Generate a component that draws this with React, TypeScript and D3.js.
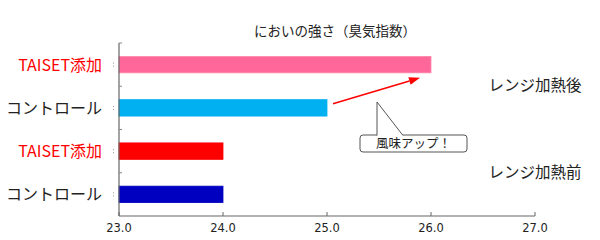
import React from "react";
import * as d3 from "d3";

const categories = ["TAISET添加", "コントロール", "TAISET添加", "コントロール"];
const groups = ["after", "after", "before", "before"];
const values = [26.0, 25.0, 24.0, 24.0];
const barColors = ["#FF6699", "#00B0F0", "#FF0000", "#0000C0"];
const labelColors = ["#FF0000", "#222222", "#FF0000", "#222222"];
const xTicks = [23, 24, 25, 26, 27];
const groupLabels = ["レンジ加熱後", "レンジ加熱前"];
const title = "においの強さ（臭気指数）";
const callout = "風味アップ！";

const W = 600;
const H = 240;
const left = 119;
const right = 535;
const top = 43;
const bottom = 216;
const font = "'Noto Sans CJK JP', 'Noto Sans', sans-serif";

export default function App() {
  const ids = categories.map((_, i) => String(i));
  const x = d3.scaleLinear().domain([23, 27]).range([left, right]);
  const y = d3.scaleBand<string>().domain(ids).range([top, bottom]).paddingInner(0.62).paddingOuter(0.31);
  const step = y.step();
  const fmt = d3.format(".1f");

  const afterMid = (y("0")! + y("1")! + y.bandwidth()) / 2;
  const beforeMid = (y("2")! + y("3")! + y.bandwidth()) / 2;

  const ax1 = x(values[1]) + 6;
  const ay1 = y("1")! + 4;
  const ax2 = x(values[0]) - 11;
  const ay2 = y("0")! + y.bandwidth() + 5;
  const ang = Math.atan2(ay2 - ay1, ax2 - ax1);
  const hl = 11, hw = 4;
  const bx = ax2 - hl * Math.cos(ang), by = ay2 - hl * Math.sin(ang);
  const head = [
    [ax2, ay2],
    [bx + hw * Math.sin(ang), by - hw * Math.cos(ang)],
    [bx - hw * Math.sin(ang), by + hw * Math.cos(ang)],
  ];

  const cx0 = 360, cx1 = 467, cy0 = 135, cy1 = 152;
  const tipX = 377, tipY = 102;

  return (
    <svg width={W} height={H} style={{ position: "absolute", left: 0, top: 0, background: "#fff" }} fontFamily={font}>
      <text x={335} y={36} textAnchor="middle" fontSize={13.5} fill="#222">{title}</text>

      {values.map((v, i) => (
        <rect key={i} x={x(23)} y={y(ids[i])!} width={x(v) - x(23)} height={y.bandwidth()}
          fill={barColors[i]} stroke={i === 0 ? "#FF88AA" : barColors[i]} strokeWidth={0.8} />
      ))}

      <line x1={left} x2={left} y1={top} y2={bottom} stroke="#666" strokeWidth={1.2} />
      {ids.map((id, i) => (
        <line key={"yt" + i} x1={left} x2={left + 3} y1={top + i * step} y2={top + i * step} stroke="#888" strokeWidth={1} />
      ))}
      {ids.map((id, i) => (
        <g key={"yd" + i} fill="#999">
          <rect x={113} y={y(id)! + y.bandwidth() / 2 - 2} width={1} height={1} />
          <rect x={113} y={y(id)! + y.bandwidth() / 2 + 1} width={1} height={1} />
        </g>
      ))}
      {categories.map((c, i) => (
        <text key={"yl" + i} x={102} y={y(ids[i])! + y.bandwidth() / 2 + 6} textAnchor="end"
          fontSize={16} fill={labelColors[i]}>{c}</text>
      ))}

      <line x1={left} x2={right} y1={bottom} y2={bottom} stroke="#666" strokeWidth={1.2} />
      {xTicks.map((t) => (
        <g key={"xt" + t}>
          <line x1={x(t)} x2={x(t)} y1={bottom} y2={bottom - 4} stroke="#666" strokeWidth={1} />
          <text x={x(t)} y={232} textAnchor="middle" fontSize={11.5} fontFamily="'DejaVu Sans', sans-serif" fill="#222">{fmt(t)}</text>
        </g>
      ))}

      <text x={535} y={afterMid + 5} textAnchor="middle" fontSize={15.5} fill="#222">{groupLabels[0]}</text>
      <text x={535} y={beforeMid + 5} textAnchor="middle" fontSize={15.5} fill="#222">{groupLabels[1]}</text>

      <line x1={ax1} y1={ay1} x2={bx} y2={by} stroke="#FF0000" strokeWidth={1.5} />
      <polygon points={head.map((p) => p.join(",")).join(" ")} fill="#FF0000" />

      <rect x={cx0} y={cy0} width={cx1 - cx0} height={cy1 - cy0} rx={3} fill="#fff" stroke="#555" strokeWidth={1} />
      <path d={`M${tipX},${cy0 + 0.5} L${tipX},${tipY} L${tipX + 26},${cy0 + 0.5}`} fill="#fff" stroke="#555" strokeWidth={1} />
      <line x1={tipX + 0.5} x2={tipX + 25.5} y1={cy0 + 0.5} y2={cy0 + 0.5} stroke="#fff" strokeWidth={1.2} />
      <text x={(cx0 + cx1) / 2} y={cy0 + 13} textAnchor="middle" fontSize={12.5} fill="#222">{callout}</text>
    </svg>
  );
}
